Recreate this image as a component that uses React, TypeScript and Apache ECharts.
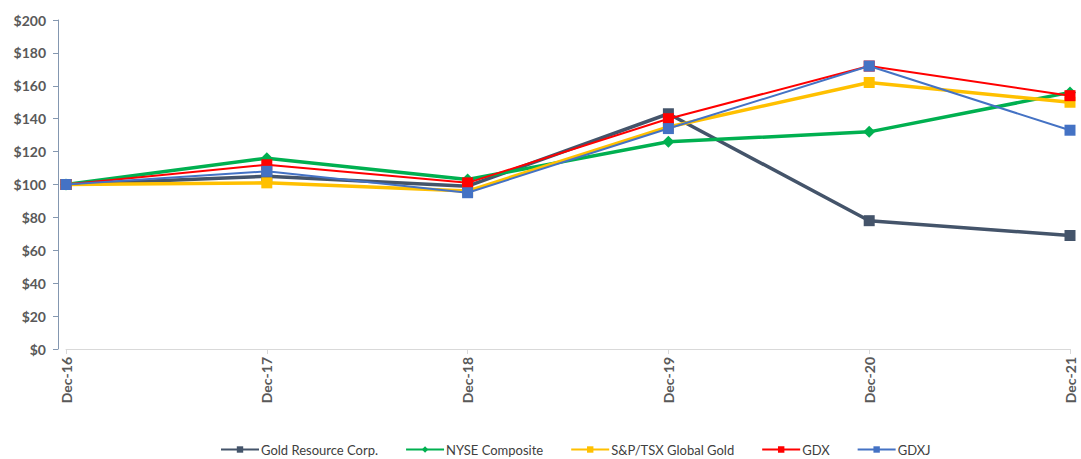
import React, { useEffect, useRef } from "react";
import * as echarts from "echarts";

const categories = ["Dec-16", "Dec-17", "Dec-18", "Dec-19", "Dec-20", "Dec-21"];
const goldResource = [100, 105, 99, 143, 78, 69];
const nyseComposite = [100, 116, 103, 126, 132, 156];
const spTsxGold = [100, 101, 96, 135, 162, 150];
const gdx = [100, 112, 101, 140, 172, 154];
const gdxj = [100, 108, 95, 134, 172, 133];
const yTicks = [0, 20, 40, 60, 80, 100, 120, 140, 160, 180, 200];

const seriesDefs = [
  { name: "Gold Resource Corp.", data: goldResource, color: "#44546A", width: 3.5, symbol: "rect", size: 11 },
  { name: "NYSE Composite", data: nyseComposite, color: "#00B050", width: 3.5, symbol: "diamond", size: 12 },
  { name: "S&P/TSX Global Gold", data: spTsxGold, color: "#FFC000", width: 3.5, symbol: "rect", size: 11 },
  { name: "GDX", data: gdx, color: "#FF0000", width: 2, symbol: "rect", size: 11 },
  { name: "GDXJ", data: gdxj, color: "#4472C4", width: 2, symbol: "rect", size: 11 },
];

export default function App() {
  const ref = useRef<HTMLDivElement>(null);
  useEffect(() => {
    if (!ref.current) return;
    const chart = echarts.init(ref.current, null, { renderer: "svg" });
    const font = "Lato, 'Liberation Sans', sans-serif";
    chart.setOption({
      animation: false,
      textStyle: { fontFamily: font },
      grid: { left: 66, right: 11, top: 20, bottom: 110, containLabel: false },
      xAxis: {
        type: "category",
        data: categories,
        boundaryGap: false,
        axisLine: { lineStyle: { color: "#D9D9D9", width: 1 } },
        axisTick: { show: true, alignWithLabel: true, length: 5, lineStyle: { color: "#D9D9D9" } },
        axisLabel: { rotate: 90, color: "#595959", fontWeight: "bold", fontSize: 14, margin: 8, fontFamily: font },
        splitLine: { show: false },
      },
      yAxis: {
        type: "value",
        min: 0,
        max: 200,
        interval: 20,
        offset: 8,
        axisLine: { show: true, lineStyle: { color: "#8497B0", width: 1 } },
        axisTick: { show: true, length: 5, lineStyle: { color: "#8497B0" } },
        axisLabel: {
          color: "#595959",
          fontWeight: "bold",
          fontSize: 14,
          margin: 12,
          fontFamily: font,
          formatter: (v: number) => (yTicks.includes(v) ? "$" + v : ""),
        },
        splitLine: { show: false },
      },
      legend: {
        top: 438,
        left: 215,
        itemWidth: 38,
        itemHeight: 8,
        itemGap: 27,
        textStyle: { color: "#404040", fontSize: 13, fontFamily: font, padding: [0, 0, 0, -3] },
        data: seriesDefs.map((s) => ({ name: s.name })),
      },
      series: seriesDefs.map((s, i) => ({
        name: s.name,
        type: "line",
        data: s.data,
        z: 2 + i,
        symbol: s.symbol,
        symbolSize: s.size,
        showSymbol: true,
        itemStyle: { color: s.color, borderWidth: 0 },
        lineStyle: { color: s.color, width: s.width },
      })),
    });
    return () => chart.dispose();
  }, []);
  return (
    <div
      ref={ref}
      style={{ position: "absolute", left: 0, top: 0, width: 1081, height: 459 }}
    />
  );
}
